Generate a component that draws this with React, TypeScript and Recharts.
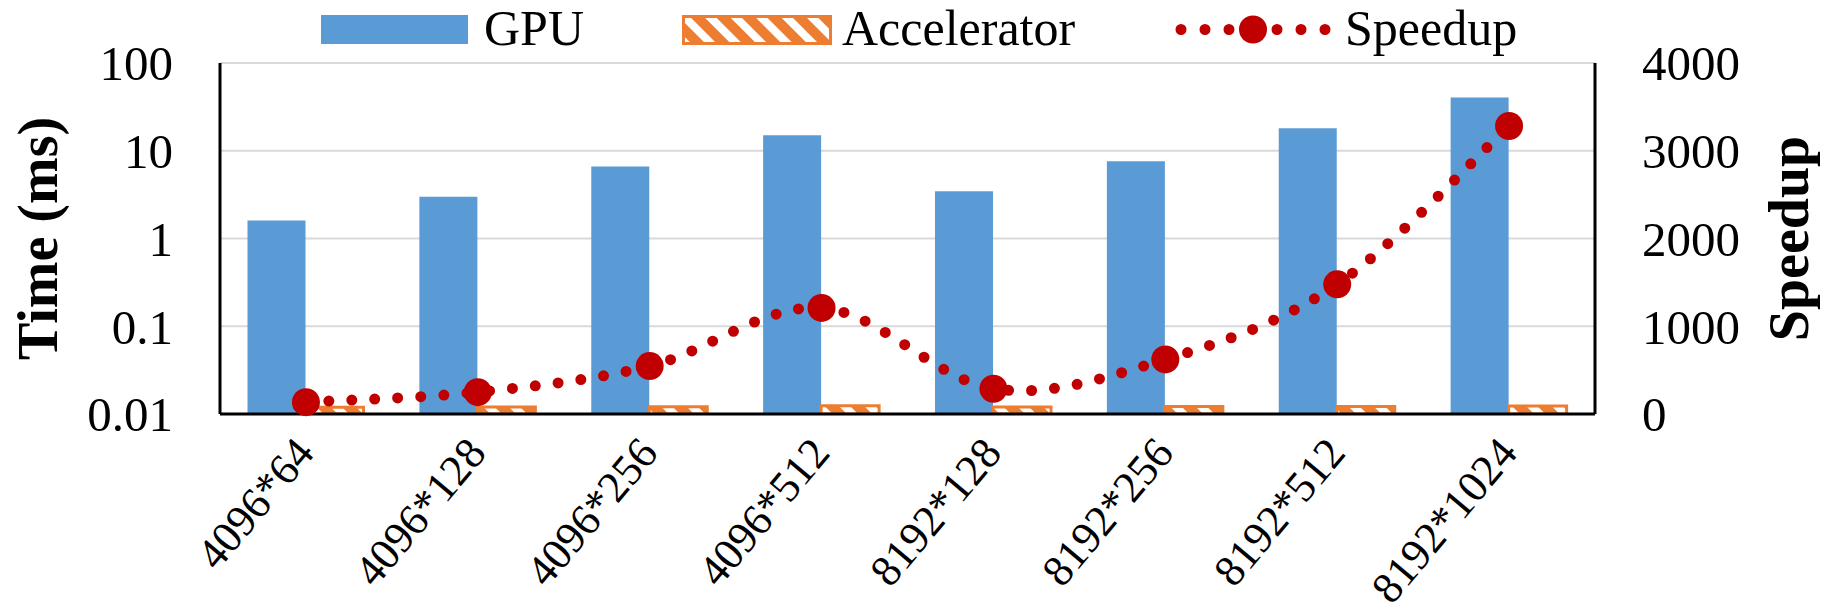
import React from 'react';
import { ComposedChart, Bar, Line, XAxis, YAxis, CartesianGrid } from 'recharts';

const categories = ['4096*64', '4096*128', '4096*256', '4096*512', '8192*128', '8192*256', '8192*512', '8192*1024'];
const gpuTime = [1.6, 3.0, 6.6, 15.0, 3.45, 7.6, 18.0, 40.5]; // ms, log axis
const accTime = [0.0119, 0.012, 0.0121, 0.0124, 0.012, 0.0122, 0.0122, 0.0123];
const speedup = [135, 249, 546, 1209, 288, 622, 1478, 3282];
const timeTicks = [0.01, 0.1, 1, 10, 100];
const speedupTicks = [0, 1000, 2000, 3000, 4000];

const GPU_BLUE = '#5B9BD5';
const ACC_ORANGE = '#ED7D31';
const SPEED_RED = '#C00000';
const FONT = "'Liberation Serif', 'Times New Roman', serif";

const data = categories.map((name, i) => ({
  name,
  gpu: gpuTime[i],
  acc: accTime[i],
  speedup: speedup[i],
}));

// Excel-like smoothed line (Catmull-Rom through the points)
const excelSmooth = (context: any) => {
  let pts: number[][] = [];
  return {
    areaStart() {},
    areaEnd() {},
    lineStart() {
      pts = [];
    },
    point(x: number, y: number) {
      pts.push([+x, +y]);
    },
    lineEnd() {
      if (!pts.length) return;
      context.moveTo(pts[0][0], pts[0][1]);
      for (let i = 0; i < pts.length - 1; i++) {
        const p0 = pts[Math.max(i - 1, 0)];
        const p1 = pts[i];
        const p2 = pts[i + 1];
        const p3 = pts[Math.min(i + 2, pts.length - 1)];
        context.bezierCurveTo(
          p1[0] + (p2[0] - p0[0]) / 6, p1[1] + (p2[1] - p0[1]) / 6,
          p2[0] - (p3[0] - p1[0]) / 6, p2[1] - (p3[1] - p1[1]) / 6,
          p2[0], p2[1]
        );
      }
    },
  };
};

const XTick = ({ x, y, payload }: any) => (
  <g transform={`translate(${x + 10},${y + 38})`}>
    <text textAnchor="end" transform="rotate(-50)" fontSize={44} fontFamily={FONT} fill="#000">
      {payload.value}
    </text>
  </g>
);

const axisTitle = (text: string, x: number) => (props: any) => {
  const vb = props.viewBox || {};
  const cy = vb.height ? vb.y + vb.height / 2 : 239;
  return (
    <text
      x={x}
      y={cy}
      transform={`rotate(-90 ${x} ${cy})`}
      textAnchor="middle"
      fontSize={56}
      fontWeight="bold"
      fontFamily={FONT}
      fill="#000"
    >
      {text}
    </text>
  );
};

const tickStyle = { fill: '#000', fontSize: 49, fontFamily: FONT };
const frameLine = { stroke: '#000', strokeWidth: 3 };

const LegendOverlay = () => (
  <svg width={1834} height={62} style={{ position: 'absolute', left: 0, top: 0, pointerEvents: 'none' }}>
    <defs>
      <pattern id="accStripes" patternUnits="userSpaceOnUse" width={18} height={18} patternTransform="rotate(-45)">
        <rect width={18} height={18} fill={ACC_ORANGE} />
        <rect width={8} height={18} fill="#fff" />
      </pattern>
    </defs>
    <rect x={321} y={15} width={147} height={29} fill={GPU_BLUE} />
    <text x={484} y={45} fontSize={50} fontFamily={FONT} fill="#000">GPU</text>
    <rect x={683.5} y={16.5} width={147} height={27} fill="url(#accStripes)" stroke={ACC_ORANGE} strokeWidth={3} />
    <text x={842} y={45} fontSize={50} fontFamily={FONT} fill="#000">Accelerator</text>
    <line x1={1181} y1={29.5} x2={1326} y2={29.5} stroke={SPEED_RED} strokeWidth={11} strokeDasharray="0 24" strokeLinecap="round" />
    <circle cx={1253} cy={29.5} r={14} fill={SPEED_RED} />
    <text x={1345} y={45} fontSize={50} fontFamily={FONT} fill="#000">Speedup</text>
  </svg>
);

export default function App() {
  return (
    <div style={{ position: 'absolute', left: 0, top: 0, width: 1834, height: 615, background: '#fff' }}>
      <ComposedChart
        width={1834}
        height={615}
        data={data}
        margin={{ top: 63, right: 0, bottom: 0, left: 0 }}
        barCategoryGap="16%"
        barGap={0}
      >
        <CartesianGrid yAxisId="left" vertical={false} stroke="#D9D9D9" strokeWidth={2} />
        <XAxis
          dataKey="name"
          height={201}
          interval={0}
          tickLine={false}
          tickSize={0}
          axisLine={frameLine}
          tick={<XTick />}
        />
        <XAxis xAxisId="top" dataKey="name" orientation="top" height={0} tick={false} tickLine={false} axisLine={frameLine} />
        <YAxis
          yAxisId="left"
          scale="log"
          domain={[0.01, 100]}
          ticks={timeTicks}
          allowDataOverflow
          width={220}
          tickLine={false}
          tickSize={0}
          tickMargin={47}
          axisLine={frameLine}
          tick={tickStyle}
          label={{ content: axisTitle('Time (ms)', 57) }}
        />
        <YAxis
          yAxisId="right"
          orientation="right"
          domain={[0, 4000]}
          ticks={speedupTicks}
          width={239}
          tickLine={false}
          tickSize={0}
          tickMargin={47}
          axisLine={frameLine}
          tick={tickStyle}
          label={{ content: axisTitle('Speedup', 1808) }}
        />
        <Bar yAxisId="left" dataKey="gpu" name="GPU" fill={GPU_BLUE} isAnimationActive={false} />
        <Bar
          yAxisId="left"
          dataKey="acc"
          name="Accelerator"
          fill="url(#accStripes)"
          stroke={ACC_ORANGE}
          strokeWidth={3}
          isAnimationActive={false}
        />
        <Line
          yAxisId="right"
          dataKey="speedup"
          name="Speedup"
          type={excelSmooth as any}
          stroke={SPEED_RED}
          strokeWidth={11}
          strokeDasharray="0 23"
          strokeLinecap="round"
          dot={{ r: 14, fill: SPEED_RED, stroke: 'none', strokeWidth: 0 }}
          isAnimationActive={false}
        />
      </ComposedChart>
      <LegendOverlay />
    </div>
  );
}
